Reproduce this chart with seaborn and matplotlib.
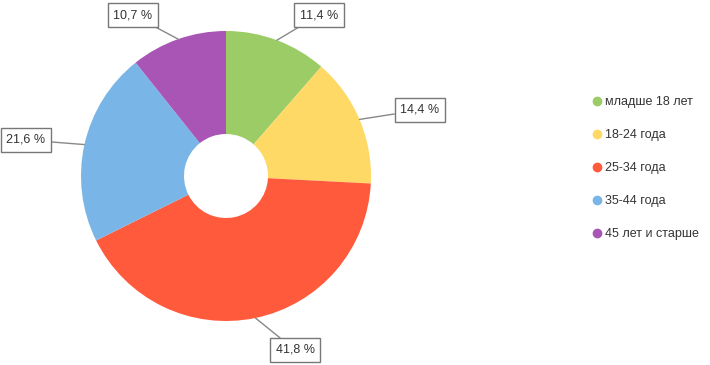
import matplotlib.pyplot as plt
import seaborn as sns
import numpy as np
from matplotlib.lines import Line2D

# age groups and their shares (%)
groups = ["младше 18 лет", "18-24 года", "25-34 года", "35-44 года", "45 лет и старше"]
shares = [11.4, 14.4, 41.8, 21.6, 10.7]
colors = ["#9ccc65", "#ffd966", "#ff5a3c", "#7ab5e8", "#a855b5"]

# where each value box sits (pixels, y from top)
box_pos = [(319, 15), (420, 110), (295, 350), (26, 140), (133, 15)]

sns.set_theme(style="white")
plt.rcParams["font.family"] = ["Liberation Sans", "DejaVu Sans"]

W, H = 710, 365
fig = plt.figure(figsize=(W / 100, H / 100), dpi=100)
ax = fig.add_axes([0, 0, 1, 1])

cx, cy, r = 226, H - 176, 145
wedges, _ = ax.pie(shares, colors=sns.color_palette(colors), startangle=90,
                   counterclock=False, center=(cx, cy), radius=r,
                   wedgeprops=dict(width=103, linewidth=0))
ax.set_xlim(0, W)
ax.set_ylim(0, H)
ax.set_aspect("equal")
ax.axis("off")

# value boxes with leader lines
for w, v, (bx, by) in zip(wedges, shares, box_pos):
    ang = np.deg2rad((w.theta1 + w.theta2) / 2)
    pt = (cx + r * np.cos(ang), cy + r * np.sin(ang))
    ax.annotate(f"{v:.1f} %".replace(".", ","), xy=pt, xytext=(bx, H - by),
                ha="center", va="center", fontsize=9, color="#333333",
                bbox=dict(boxstyle="square,pad=0.45", fc="white", ec="#777777", lw=1),
                arrowprops=dict(arrowstyle="-", color="#888888", lw=1,
                                shrinkA=0, shrinkB=0))

handles = [Line2D([], [], marker="o", ls="", markersize=6, color=c) for c in colors]
fig.legend(handles, groups, loc="center left", bbox_to_anchor=(582 / W, 1 - 168 / H),
           frameon=False, fontsize=9, labelspacing=1.68, handlelength=0.6,
           handletextpad=0.35, labelcolor="#333333")

fig.savefig("out.png", dpi=100)
